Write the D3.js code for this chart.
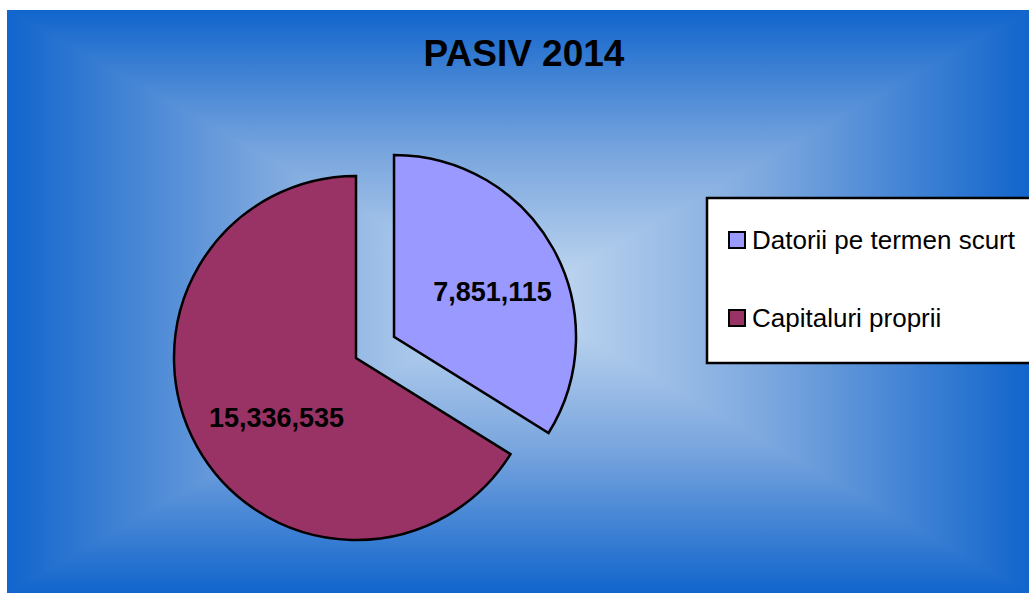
<!DOCTYPE html>
<html>
<head>
<meta charset="utf-8">
<script src="https://cdn.jsdelivr.net/npm/d3@7"></script>
<style>
  body { margin: 0; background: #fff; }
  svg { display: block; font-family: Arial, "Liberation Sans", sans-serif; }
</style>
</head>
<body>
<svg width="1029" height="593"></svg>
<script>
// Data
var categories = ["Datorii pe termen scurt", "Capitaluri proprii"];
var values = [7851115, 15336535];
var colors = ["#9999ff", "#993366"];
var title = "PASIV 2014";

var svg = d3.select("svg"),
    width = +svg.attr("width"),
    height = +svg.attr("height");

// background: rectangular "from center" gradient built from 4 triangles
var bx0 = 7, by0 = 10, bx1 = width, by1 = height;
var cx = 518, cy = 300;
var edge = "#1165cc", mid = "#7aa6de", light = "#c9ddf2";
var defs = svg.append("defs");
var sides = [
  {id: "gTop", x1: 0, y1: by0, x2: 0, y2: cy, pts: [[bx0, by0], [bx1, by0], [cx, cy]]},
  {id: "gBot", x1: 0, y1: by1, x2: 0, y2: cy, pts: [[bx0, by1], [bx1, by1], [cx, cy]]},
  {id: "gLeft", x1: bx0, y1: 0, x2: cx, y2: 0, pts: [[bx0, by0], [bx0, by1], [cx, cy]]},
  {id: "gRight", x1: bx1, y1: 0, x2: cx, y2: 0, pts: [[bx1, by0], [bx1, by1], [cx, cy]]}
];
sides.forEach(function (s) {
  var g = defs.append("linearGradient").attr("id", s.id)
    .attr("gradientUnits", "userSpaceOnUse")
    .attr("x1", s.x1).attr("y1", s.y1).attr("x2", s.x2).attr("y2", s.y2);
  g.append("stop").attr("offset", 0).attr("stop-color", edge);
  g.append("stop").attr("offset", 0.5).attr("stop-color", mid);
  g.append("stop").attr("offset", 1).attr("stop-color", light);
});
svg.append("g")
  .selectAll("polygon")
  .data(sides)
  .enter()
  .append("polygon")
  .attr("points", function (s) { return s.pts.map(function (p) { return p.join(","); }).join(" "); })
  .attr("fill", function (s) { return "url(#" + s.id + ")"; })
  .attr("shape-rendering", "crispEdges");

// title
svg.append("text")
  .attr("x", 524).attr("y", 66)
  .attr("text-anchor", "middle")
  .attr("font-size", 37).attr("font-weight", "bold")
  .text(title);

// pie
var radius = 182, explode = 43.5;
var pie = d3.pie().sort(null).value(function (d) { return d; });
var arc = d3.arc().innerRadius(0).outerRadius(radius);
var arcs = pie(values);

var g = svg.append("g").attr("transform", "translate(356,358)");
var slice = g.selectAll(".slice")
  .data(arcs)
  .enter()
  .append("g")
  .attr("transform", function (d, i) {
    if (i !== 0) return null;
    var a = (d.startAngle + d.endAngle) / 2;
    return "translate(" + (explode * Math.sin(a)) + "," + (-explode * Math.cos(a)) + ")";
  });

slice.append("path")
  .attr("d", arc)
  .attr("fill", function (d, i) { return colors[i]; })
  .attr("stroke", "#000")
  .attr("stroke-width", 2.5)
  .attr("stroke-linejoin", "miter");

// data labels
var labelPos = [[98.5, -36], [-79.5, 69]];
slice.append("text")
  .attr("x", function (d, i) { return labelPos[i][0]; })
  .attr("y", function (d, i) { return labelPos[i][1]; })
  .attr("text-anchor", "middle")
  .attr("font-size", 27).attr("font-weight", "bold")
  .text(function (d) { return d3.format(",")(d.value); });

// legend
var legend = svg.append("g");
legend.append("rect")
  .attr("x", 707).attr("y", 198)
  .attr("width", 340).attr("height", 165)
  .attr("fill", "#fff")
  .attr("stroke", "#000")
  .attr("stroke-width", 2.5);

var item = legend.selectAll(".item")
  .data(categories)
  .enter()
  .append("g")
  .attr("transform", function (d, i) { return "translate(0," + (i * 78) + ")"; });

item.append("rect")
  .attr("x", 729).attr("y", 232)
  .attr("width", 16).attr("height", 16)
  .attr("fill", function (d, i) { return colors[i]; })
  .attr("stroke", "#000")
  .attr("stroke-width", 2);

item.append("text")
  .attr("x", 752).attr("y", 249)
  .attr("font-size", 26)
  .text(function (d) { return d; });
</script>
</body>
</html>
